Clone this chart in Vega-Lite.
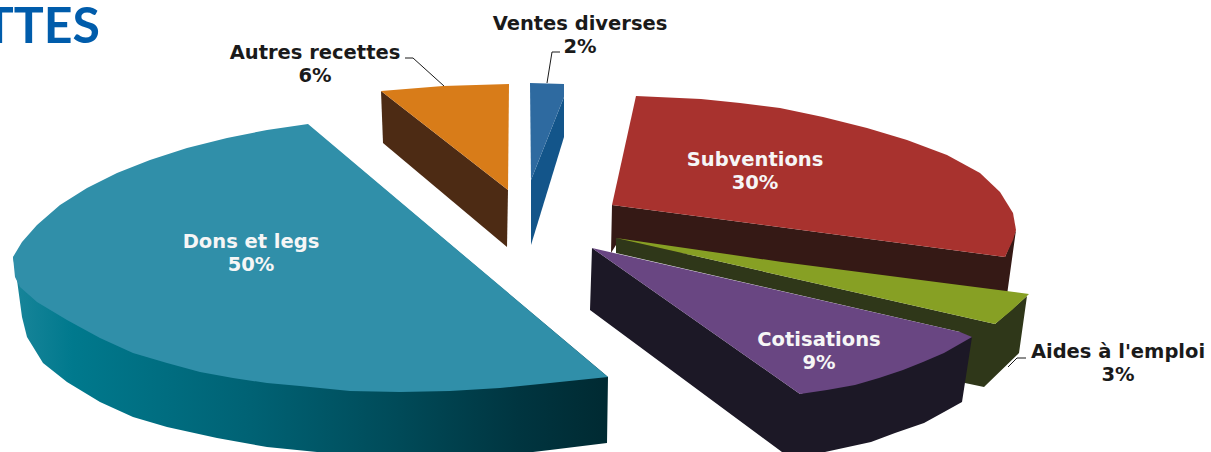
{
"$schema":"https://vega.github.io/schema/vega-lite/v6.json",
"width":1211,"height":452,"padding":0,"autosize":{"type":"none"},
"background":"white","view":{"stroke":null},
"datasets":{
"sides":[
{"part":"Dons side","seq":1,"x":13,"y":257},{"part":"Dons side","seq":2,"x":308,"y":125},{"part":"Dons side","seq":3,"x":608,"y":377},{"part":"Dons side","seq":4,"x":607,"y":443},{"part":"Dons side","seq":5,"x":550,"y":450},{"part":"Dons side","seq":6,"x":533,"y":452},{"part":"Dons side","seq":7,"x":317,"y":452},{"part":"Dons side","seq":8,"x":267,"y":447},{"part":"Dons side","seq":9,"x":217,"y":438},{"part":"Dons side","seq":10,"x":167,"y":427},{"part":"Dons side","seq":11,"x":133,"y":417},{"part":"Dons side","seq":12,"x":100,"y":402},{"part":"Dons side","seq":13,"x":67,"y":382},{"part":"Dons side","seq":14,"x":43,"y":363},{"part":"Dons side","seq":15,"x":27,"y":337},{"part":"Dons side","seq":16,"x":22,"y":317},{"part":"Dons side","seq":17,"x":17,"y":280}
],
"shapes":[
{"part":"Dons","seq":1,"x":308,"y":124},{"part":"Dons","seq":2,"x":267,"y":130},{"part":"Dons","seq":3,"x":227,"y":138},{"part":"Dons","seq":4,"x":187,"y":148},{"part":"Dons","seq":5,"x":150,"y":160},{"part":"Dons","seq":6,"x":117,"y":173},{"part":"Dons","seq":7,"x":87,"y":188},{"part":"Dons","seq":8,"x":60,"y":205},{"part":"Dons","seq":9,"x":37,"y":225},{"part":"Dons","seq":10,"x":22,"y":242},{"part":"Dons","seq":11,"x":13,"y":257},{"part":"Dons","seq":12,"x":15,"y":277},{"part":"Dons","seq":13,"x":20,"y":287},{"part":"Dons","seq":14,"x":37,"y":302},{"part":"Dons","seq":15,"x":67,"y":320},{"part":"Dons","seq":16,"x":100,"y":338},{"part":"Dons","seq":17,"x":133,"y":353},{"part":"Dons","seq":18,"x":167,"y":363},{"part":"Dons","seq":19,"x":200,"y":372},{"part":"Dons","seq":20,"x":233,"y":378},{"part":"Dons","seq":21,"x":267,"y":383},{"part":"Dons","seq":22,"x":300,"y":386},{"part":"Dons","seq":23,"x":350,"y":391},{"part":"Dons","seq":24,"x":400,"y":392},{"part":"Dons","seq":25,"x":450,"y":391},{"part":"Dons","seq":26,"x":500,"y":388},{"part":"Dons","seq":27,"x":550,"y":383},{"part":"Dons","seq":28,"x":608,"y":377},
{"part":"Autres side","seq":1,"x":381,"y":91},{"part":"Autres side","seq":2,"x":508,"y":190},{"part":"Autres side","seq":3,"x":507,"y":247},{"part":"Autres side","seq":4,"x":383,"y":143},
{"part":"Autres","seq":1,"x":381,"y":91},{"part":"Autres","seq":2,"x":443,"y":86},{"part":"Autres","seq":3,"x":509,"y":84},{"part":"Autres","seq":4,"x":508,"y":190},
{"part":"Ventes side","seq":1,"x":564,"y":97},{"part":"Ventes side","seq":2,"x":564,"y":137},{"part":"Ventes side","seq":3,"x":531,"y":245},{"part":"Ventes side","seq":4,"x":531,"y":180},
{"part":"Ventes","seq":1,"x":530,"y":83},{"part":"Ventes","seq":2,"x":564,"y":84},{"part":"Ventes","seq":3,"x":564,"y":97},{"part":"Ventes","seq":4,"x":531,"y":180},
{"part":"Subventions side","seq":1,"x":612,"y":205},{"part":"Subventions side","seq":2,"x":1005,"y":257},{"part":"Subventions side","seq":3,"x":1016,"y":230},{"part":"Subventions side","seq":4,"x":1007,"y":295},{"part":"Subventions side","seq":5,"x":616,"y":245},{"part":"Subventions side","seq":6,"x":611,"y":253},
{"part":"Subventions","seq":1,"x":636,"y":96},{"part":"Subventions","seq":2,"x":701,"y":99},{"part":"Subventions","seq":3,"x":740,"y":103},{"part":"Subventions","seq":4,"x":780,"y":108},{"part":"Subventions","seq":5,"x":823,"y":117},{"part":"Subventions","seq":6,"x":867,"y":128},{"part":"Subventions","seq":7,"x":907,"y":140},{"part":"Subventions","seq":8,"x":947,"y":155},{"part":"Subventions","seq":9,"x":980,"y":173},{"part":"Subventions","seq":10,"x":1000,"y":192},{"part":"Subventions","seq":11,"x":1013,"y":213},{"part":"Subventions","seq":12,"x":1016,"y":230},{"part":"Subventions","seq":13,"x":1013,"y":240},{"part":"Subventions","seq":14,"x":1005,"y":257},{"part":"Subventions","seq":15,"x":612,"y":205},
{"part":"Aides side","seq":1,"x":616,"y":238},{"part":"Aides side","seq":2,"x":995,"y":324},{"part":"Aides side","seq":3,"x":1027,"y":296},{"part":"Aides side","seq":4,"x":1019,"y":353},{"part":"Aides side","seq":5,"x":984,"y":387},{"part":"Aides side","seq":6,"x":965,"y":383},{"part":"Aides side","seq":7,"x":960,"y":332},{"part":"Aides side","seq":8,"x":616,"y":253},
{"part":"Aides","seq":1,"x":616,"y":238},{"part":"Aides","seq":2,"x":782,"y":262},{"part":"Aides","seq":3,"x":944,"y":283},{"part":"Aides","seq":4,"x":1029,"y":294},{"part":"Aides","seq":5,"x":1012,"y":310},{"part":"Aides","seq":6,"x":995,"y":324},
{"part":"Cotisations side","seq":1,"x":592,"y":248},{"part":"Cotisations side","seq":2,"x":800,"y":394},{"part":"Cotisations side","seq":3,"x":972,"y":337},{"part":"Cotisations side","seq":4,"x":962,"y":402},{"part":"Cotisations side","seq":5,"x":944,"y":412},{"part":"Cotisations side","seq":6,"x":924,"y":423},{"part":"Cotisations side","seq":7,"x":895,"y":433},{"part":"Cotisations side","seq":8,"x":871,"y":442},{"part":"Cotisations side","seq":9,"x":825,"y":452},{"part":"Cotisations side","seq":10,"x":782,"y":452},{"part":"Cotisations side","seq":11,"x":590,"y":310},
{"part":"Cotisations","seq":1,"x":592,"y":248},{"part":"Cotisations","seq":2,"x":960,"y":332},{"part":"Cotisations","seq":3,"x":972,"y":337},{"part":"Cotisations","seq":4,"x":944,"y":353},{"part":"Cotisations","seq":5,"x":923,"y":362},{"part":"Cotisations","seq":6,"x":903,"y":370},{"part":"Cotisations","seq":7,"x":879,"y":378},{"part":"Cotisations","seq":8,"x":855,"y":385},{"part":"Cotisations","seq":9,"x":827,"y":390},{"part":"Cotisations","seq":10,"x":800,"y":394}
],
"leaders":[
{"name":"Autres recettes","seq":1,"x":405,"y":58},{"name":"Autres recettes","seq":2,"x":413,"y":58},{"name":"Autres recettes","seq":3,"x":444,"y":86},
{"name":"Ventes diverses","seq":1,"x":560,"y":52},{"name":"Ventes diverses","seq":2,"x":552,"y":52},{"name":"Ventes diverses","seq":3,"x":547,"y":83},
{"name":"Aides","seq":1,"x":1026,"y":358},{"name":"Aides","seq":2,"x":1017,"y":358},{"name":"Aides","seq":3,"x":1008,"y":367}
],
"labels":[
{"label":"Dons et legs\n50%","place":"inside","x":251,"y":248},
{"label":"Subventions\n30%","place":"inside","x":755,"y":166},
{"label":"Cotisations\n9%","place":"inside","x":819,"y":346},
{"label":"Aides à l'emploi\n3%","place":"outside","x":1118,"y":358},
{"label":"Autres recettes\n6%","place":"outside","x":315,"y":59},
{"label":"Ventes diverses\n2%","place":"outside","x":580,"y":30}
]
},
"layer":[
{"data":{"name":"sides"},
 "mark":{"type":"line","strokeWidth":0,"fill":{"gradient":"linear","x1":0,"y1":0,"x2":1,"y2":0,"stops":[{"offset":0,"color":"#19859a"},{"offset":0.1,"color":"#00798d"},{"offset":0.4,"color":"#006274"},{"offset":0.65,"color":"#004a58"},{"offset":0.85,"color":"#003540"},{"offset":1,"color":"#002a32"}]}},
 "encoding":{
  "x":{"field":"x","type":"quantitative","scale":{"domain":[0,1211]},"axis":null},
  "y":{"field":"y","type":"quantitative","scale":{"domain":[452,0]},"axis":null},
  "order":{"field":"seq","type":"quantitative"}}},
{"data":{"name":"shapes"},
 "mark":{"type":"line","strokeWidth":0},
 "encoding":{
  "x":{"field":"x","type":"quantitative","scale":{"domain":[0,1211]},"axis":null},
  "y":{"field":"y","type":"quantitative","scale":{"domain":[452,0]},"axis":null},
  "order":{"field":"seq","type":"quantitative"},
  "fill":{"field":"part","type":"nominal","legend":null,"sort":null,"scale":{
    "domain":["Dons","Autres side","Autres","Ventes side","Ventes","Subventions side","Subventions","Aides side","Aides","Cotisations side","Cotisations"],
    "range":["#308fa9","#4d2b14","#d87c19","#13558a","#2e6aa0","#351915","#a8322e","#2f3719","#87a024","#1c1826","#694682"]}}}},
{"data":{"name":"leaders"},
 "mark":{"type":"line","stroke":"#1a1a1a","strokeWidth":1},
 "encoding":{
  "x":{"field":"x","type":"quantitative","scale":{"domain":[0,1211]},"axis":null},
  "y":{"field":"y","type":"quantitative","scale":{"domain":[452,0]},"axis":null},
  "detail":{"field":"name"},
  "order":{"field":"seq","type":"quantitative"}}},
{"data":{"name":"labels"},
 "mark":{"type":"text","font":"DejaVu Sans","fontWeight":"bold","fontSize":19.5,"lineBreak":"\n","lineHeight":23,"align":"center","baseline":"alphabetic"},
 "encoding":{
  "x":{"field":"x","type":"quantitative","scale":{"domain":[0,1211]},"axis":null},
  "y":{"field":"y","type":"quantitative","scale":{"domain":[452,0]},"axis":null},
  "text":{"field":"label"},
  "color":{"field":"place","type":"nominal","legend":null,"scale":{"domain":["inside","outside"],"range":["#f6f6f6","#1a1a1a"]}}}},
{"data":{"values":[{"title":"TTES","x":100,"y":43}]},
 "mark":{"type":"text","font":"Lato","fontWeight":"bold","fontSize":50,"align":"right","baseline":"alphabetic","color":"#005cab"},
 "encoding":{
  "x":{"field":"x","type":"quantitative","scale":{"domain":[0,1211]},"axis":null},
  "y":{"field":"y","type":"quantitative","scale":{"domain":[452,0]},"axis":null},
  "text":{"field":"title"}}}
]
}
